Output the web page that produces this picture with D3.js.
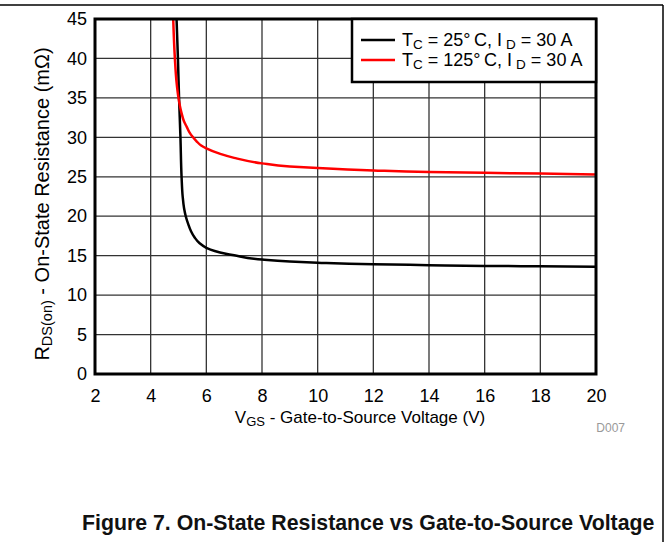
<!DOCTYPE html>
<html><head><meta charset="utf-8">
<script src="https://cdn.jsdelivr.net/npm/d3@7"></script>
<style>body{margin:0;background:#fff;} text{font-family:"Liberation Sans",Arial,sans-serif;}</style>
</head><body>
<svg id="c" width="669" height="542"></svg>
<script>
const xTicks = [2,4,6,8,10,12,14,16,18,20];
const yTicks = [0,5,10,15,20,25,30,35,40,45];
const vgs25 = [4.93,4.98,5.02,5.07,5.11,5.15,5.2,5.26,5.35,5.45,5.58,5.75,6,6.3,6.7,7,8,9,10,12,14,16,18,20];
const rds25 = [45,40,35,30,25,22.5,21,20,19,18.1,17.3,16.6,16.0,15.6,15.25,15.05,14.5,14.25,14.1,13.9,13.8,13.7,13.65,13.6];
const vgs125 = [4.81,4.87,4.93,5.0,5.1,5.2,5.3,5.4,5.5,5.65,5.8,6,6.5,7,8,9,10,12,14,16,18,20];
const rds125 = [45,40,37,35,33.2,32,31.3,30.6,30.1,29.5,29.0,28.6,27.9,27.4,26.7,26.3,26.1,25.8,25.6,25.5,25.4,25.3];
const colors = ["#000000", "#ff0000"];

const svg = d3.select("#c");
const L = 95, R = 596, T = 19, B = 374;
const x = d3.scaleLinear().domain([2,20]).range([L,R]);
const y = d3.scaleLinear().domain([0,45]).range([B,T]);
const FF = "Liberation Sans, Arial, sans-serif";

// outer frame
svg.append("line").attr("x1",0).attr("x2",663).attr("y1",5).attr("y2",5).attr("stroke","#000").attr("stroke-width",1.5);
svg.append("line").attr("x1",663).attr("x2",663).attr("y1",5).attr("y2",542).attr("stroke","#000").attr("stroke-width",1.5);

// grid
svg.append("g").selectAll("line").data(xTicks.slice(1,-1)).join("line")
  .attr("x1",d=>x(d)).attr("x2",d=>x(d)).attr("y1",T).attr("y2",B)
  .attr("stroke","#333").attr("stroke-width",1.3);
svg.append("g").selectAll("line").data(yTicks.slice(1,-1)).join("line")
  .attr("y1",d=>y(d)).attr("y2",d=>y(d)).attr("x1",L).attr("x2",R)
  .attr("stroke","#333").attr("stroke-width",1.3);

// axes labels via d3 axes
const xAxis = svg.append("g").attr("transform",`translate(0,${B})`)
  .call(d3.axisBottom(x).tickValues(xTicks).tickSize(0).tickPadding(15));
xAxis.select(".domain").remove();
xAxis.selectAll("text").attr("font-size",18).attr("fill","#000").attr("font-family",FF);
const yAxis = svg.append("g").attr("transform",`translate(${L},0)`)
  .call(d3.axisLeft(y).tickValues(yTicks).tickSize(0).tickPadding(8));
yAxis.select(".domain").remove();
yAxis.selectAll("text").attr("font-size",18).attr("fill","#000").attr("font-family",FF);

// curves
svg.append("defs").append("clipPath").attr("id","clip").append("rect")
  .attr("x",L).attr("y",T).attr("width",R-L).attr("height",B-T);
const line = d3.line().x(d=>x(d[0])).y(d=>y(d[1])).curve(d3.curveMonotoneY);
const data = [d3.zip(vgs25, rds25), d3.zip(vgs125, rds125)];
data.forEach((d,i)=>{
  svg.append("path").datum(d).attr("d",line).attr("fill","none")
    .attr("stroke",colors[i]).attr("stroke-width",2.5).attr("clip-path","url(#clip)");
});

// plot frame
svg.append("rect").attr("x",L).attr("y",T).attr("width",R-L).attr("height",B-T)
  .attr("fill","none").attr("stroke","#000").attr("stroke-width",3);

// legend
const lg = svg.append("g");
lg.append("rect").attr("x",352).attr("y",T).attr("width",R-352).attr("height",63)
  .attr("fill","#fff").attr("stroke","#000").attr("stroke-width",2.5);
const labels = [["T","C"," = 25°\u2009C, I","D"," = 30 A"],["T","C"," = 125°\u2009C, I","D"," = 30 A"]];
labels.forEach((lab,i)=>{
  const yy = 40 + i*20;
  lg.append("line").attr("x1",361).attr("x2",395).attr("y1",yy).attr("y2",yy)
    .attr("stroke",colors[i]).attr("stroke-width",2.5);
  const t = lg.append("text").attr("x",402).attr("y",yy+6).attr("font-size",18).attr("fill","#000");
  t.append("tspan").text(lab[0]);
  t.append("tspan").attr("font-size",13.5).attr("dy",3).text(lab[1]);
  t.append("tspan").attr("dy",-3).text(lab[2]);
  t.append("tspan").attr("font-size",13.5).attr("dy",3).attr("dx",4).text(lab[3]);
  t.append("tspan").attr("dy",-3).text(lab[4]);
});

// axis titles
const xt = svg.append("text").attr("x",360).attr("y",423).attr("text-anchor","middle").attr("font-size",17);
xt.append("tspan").text("V");
xt.append("tspan").attr("font-size",13).attr("dy",3).text("GS");
xt.append("tspan").attr("dy",-3).text(" - Gate-to-Source Voltage (V)");

const yt = svg.append("text").attr("transform",`translate(49,204) rotate(-90)`)
  .attr("text-anchor","middle").attr("font-size",20);
yt.append("tspan").text("R");
yt.append("tspan").attr("font-size",14.5).attr("dy",3).text("DS(on)");
yt.append("tspan").attr("dy",-3).text(" - On-State Resistance (mΩ)");

svg.append("text").attr("x",625).attr("y",432).attr("text-anchor","end").attr("font-size",12)
  .attr("fill","#999").text("D007");

svg.append("text").attr("x",82).attr("y",530).attr("font-size",21.3).attr("font-weight","bold")
  .attr("fill","#111").text("Figure 7. On-State Resistance vs Gate-to-Source Voltage");
</script>
</body></html>
